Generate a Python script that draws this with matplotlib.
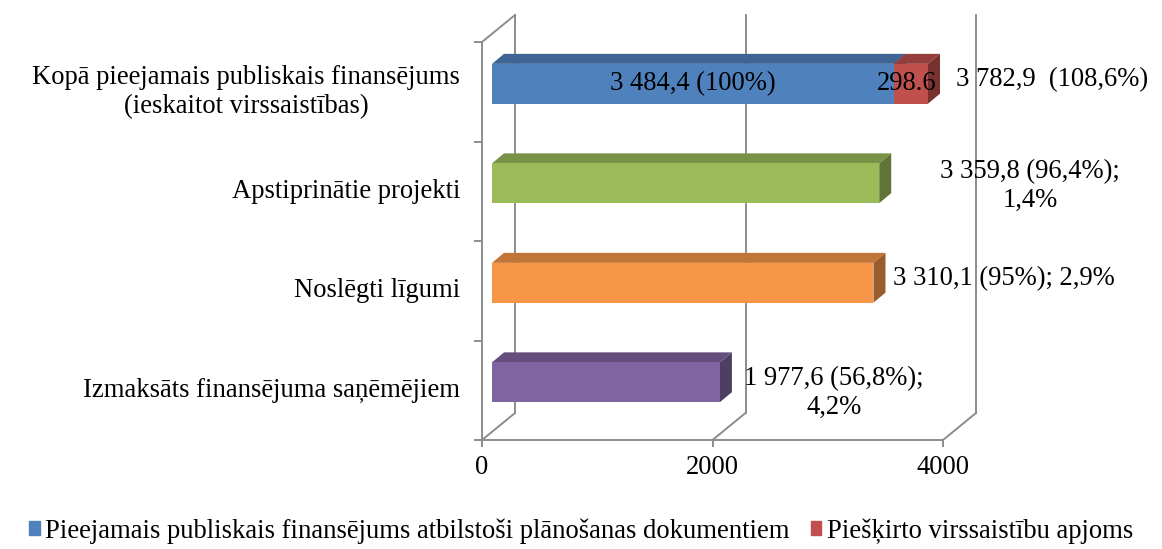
import matplotlib
matplotlib.use("Agg")
import matplotlib.pyplot as plt
from matplotlib.patches import Polygon, Rectangle
import numpy as np

plt.rcParams['font.family'] = ['Liberation Serif', 'DejaVu Serif']

# data (mln EUR)
categories = ['Kopā pieejamais publiskais finansējums\n(ieskaitot virssaistības)',
              'Apstiprinātie projekti',
              'Noslēgti līgumi',
              'Izmaksāts finansējuma saņēmējiem']
values = [3484.4, 3359.8, 3310.1, 1977.6]
extra = [298.6, 0, 0, 0]
value_labels = ['3 782,9  (108,6%)', '3 359,8 (96,4%);\n1,4%',
                '3 310,1 (95%); 2,9%', '1 977,6 (56,8%);\n4,2%']
inner_label = '3 484,4 (100%)'
xticks = [0, 2000, 4000]

face_colors = ['#4F81BD', '#9BBB59', '#F79646', '#8064A2']
red = '#C0504D'
grid_c = '#8C8C8C'
FS = 19.2

W, H = 1162, 549
fig = plt.figure(figsize=(W / 100, H / 100), dpi=100)
ax = fig.add_axes([482 / W, (H - 440) / H, (943 - 482) / W, (440 - 42) / H])
ax.set_xlim(0, 4000)
ax.set_ylim(len(categories) - 0.5, -0.5)
ax.axis('off')

# pixel sizes of the fake 3D depth (display pixels, y up)
wall_d = (33, 27)
bar_front = (10, 8)
bar_back = (22, 18)
bar_h = 0.4


def shift(x, y, d):
    # data point moved by d pixels, back into data coords
    p = ax.transData.transform((x, y)) + np.array(d)
    return tuple(ax.transData.inverted().transform(p))


def poly(pts, color, z=2):
    ax.add_patch(Polygon(pts, closed=True, facecolor=color, edgecolor='none',
                         zorder=z, clip_on=False))


def shade(c, f):
    rgb = np.array(matplotlib.colors.to_rgb(c))
    return tuple(rgb * f)


def line(p, q, lw=1.4):
    ax.plot([p[0], q[0]], [p[1], q[1]], color=grid_c, lw=lw, clip_on=False, zorder=1)


y0, y1 = len(categories) - 0.5, -0.5  # bottom, top
# back wall gridlines + floor diagonals
for t in xticks:
    line(shift(t, y0, wall_d), shift(t, y1, wall_d))
    line((t, y0), shift(t, y0, wall_d))
    line((t, y0), shift(t, y0, (0, -6)))
# left wall
line((0, y0), (0, y1))
line((0, y1), shift(0, y1, wall_d))
line((0, y0), (4000, y0))
for b in np.arange(-0.5, len(categories), 1.0):
    line((0, b), shift(0, b, (-7, 0)))

for t in xticks:
    ax.annotate(str(t), (t, y0), xytext=(0, -28), textcoords='offset pixels',
                ha='center', va='center', fontsize=FS, annotation_clip=False)


def bar3d(x_start, x_end, y, color):
    top, bot = y - bar_h / 2, y + bar_h / 2
    f = [shift(x_start, bot, bar_front), shift(x_end, bot, bar_front),
         shift(x_end, top, bar_front), shift(x_start, top, bar_front)]
    b_tl, b_tr = shift(x_start, top, bar_back), shift(x_end, top, bar_back)
    b_br = shift(x_end, bot, bar_back)
    poly([f[3], f[2], b_tr, b_tl], shade(color, 0.78), 3)
    poly([f[1], b_br, b_tr, f[2]], shade(color, 0.62), 3)
    poly(f, color, 4)
    return f


for i, (v, e, c) in enumerate(zip(values, extra, face_colors)):
    bar3d(0, v, i, c)
    if e:
        bar3d(v, v + e, i, red)

# labels
ax.annotate(inner_label, shift(values[0] / 2, 0, bar_front), ha='center', va='center',
            fontsize=FS, zorder=6, annotation_clip=False)
ax.annotate('298.6', shift(values[0] + extra[0] / 2, 0, bar_front), xytext=(-4, 0),
            textcoords='offset pixels', ha='center', va='center', fontsize=FS, zorder=6,
            annotation_clip=False)
label_pos = [(1052, 80), (1030, 186), (1004, 279), (834, 393)]
for (px_, py_), txt in zip(label_pos, value_labels):
    fig.text(px_ / W, 1 - py_ / H, txt, ha='center', va='center', fontsize=FS,
             linespacing=1.15)

for i, cat in enumerate(categories):
    ax.annotate(cat, (0, i), xytext=(-22, 0), textcoords='offset pixels', ha='right',
                va='center', fontsize=FS, multialignment='center', linespacing=1.2,
                annotation_clip=False)

# legend
handles = [Rectangle((0, 0), 1, 1, color=face_colors[0]), Rectangle((0, 0), 1, 1, color=red)]
fig.legend(handles, ['Pieejamais publiskais finansējums atbilstoši plānošanas dokumentiem',
                     'Piešķirto virssaistību apjoms'],
           loc='center', bbox_to_anchor=(0.5, 1 - 531 / H), ncol=2, frameon=False,
           fontsize=FS, handlelength=0.4, handleheight=0.4, handletextpad=0.2,
           columnspacing=0.8, borderpad=0)

fig.savefig('out.png', dpi=100)
